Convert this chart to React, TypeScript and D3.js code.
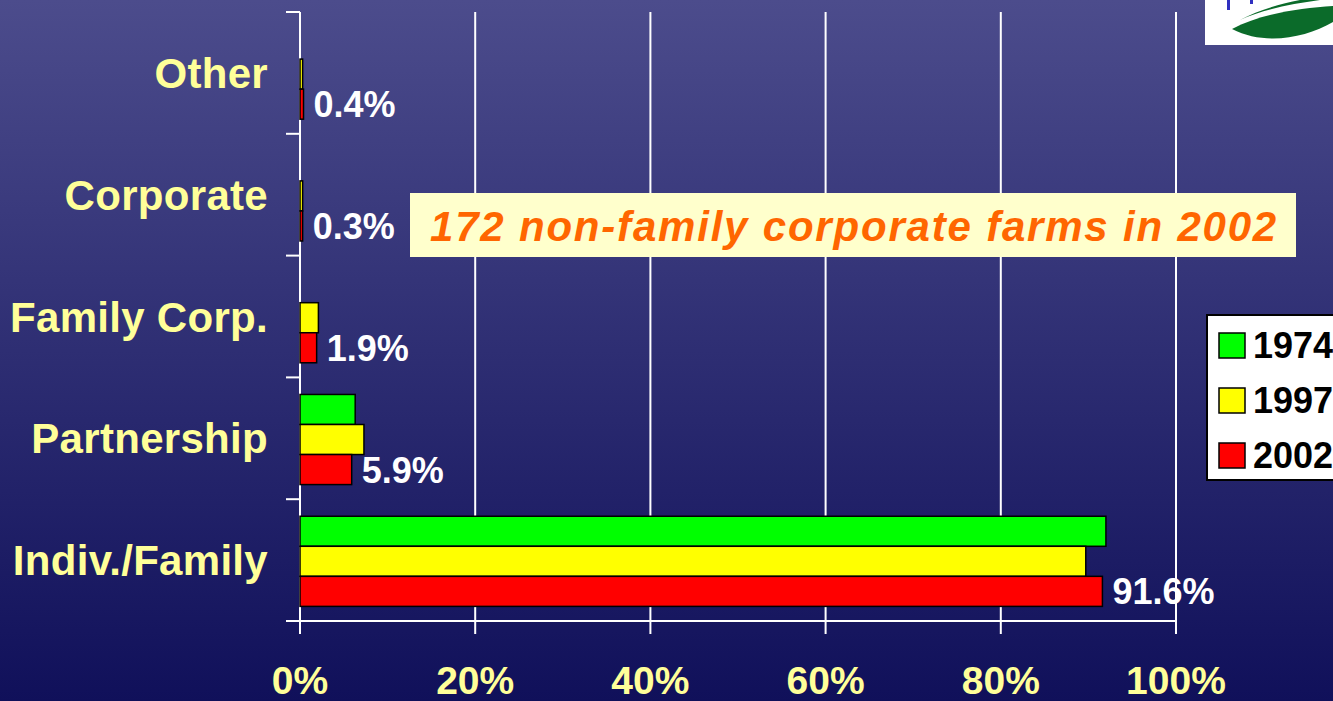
import React from 'react';
import * as d3 from 'd3';

const categories = ['Other', 'Corporate', 'Family Corp.', 'Partnership', 'Indiv./Family'];
const years = ['1974', '1997', '2002'];
const values1974 = [0, 0, 0, 6.3, 92.0];
const values1997 = [0.3, 0.3, 2.1, 7.3, 89.7];
const values2002 = [0.4, 0.3, 1.9, 5.9, 91.6];
const labels2002 = ['0.4%', '0.3%', '1.9%', '5.9%', '91.6%'];
const xTicks = [0, 20, 40, 60, 80, 100];
const colors = ['#00ff00', '#ffff00', '#ff0000'];
const note = '172 non-family corporate farms in 2002';

const W = 1333, H = 701;
const left = 300, right = 1176, top = 12, bottom = 621;

export default function App() {
  const x = d3.scaleLinear().domain([0, 100]).range([left, right]);
  const y = d3.scaleBand().domain(categories).range([top, bottom]).padding(0);
  const bw = y.bandwidth();
  const inner = d3.scaleBand().domain(years).range([bw * 0.14, bw * 0.88]).padding(0);
  const series = [values1974, values1997, values2002];
  const font = 'Arial, "Liberation Sans", Helvetica, sans-serif';

  return (
    <div style={{ position: 'absolute', left: 0, top: 0 }}>
      <svg width={W} height={H} style={{ display: 'block' }} fontFamily={font}>
        <defs>
          <linearGradient id="bg" x1="0" y1="0" x2="0" y2="1">
            <stop offset="0%" stopColor="#4c4c8c" />
            <stop offset="100%" stopColor="#10105a" />
          </linearGradient>
        </defs>
        <rect width={W} height={H} fill="url(#bg)" />

        {/* logo corner */}
        <rect x={1205} y={-2} width={140} height={47} fill="#ffffff" />
        <path d="M1232,29 C1260,14 1300,8 1333,6 L1333,22 C1305,38 1265,46 1232,29 Z" fill="#0b6b2a" />
        <path d="M1240,20 C1262,10 1290,4 1320,0 L1300,0 C1280,4 1258,10 1240,20 Z" fill="#0b6b2a" />
        <rect x={1227} y={0} width={3} height={10} fill="#3030c0" />
        <rect x={1250} y={0} width={3} height={4} fill="#3030c0" />

        {/* grid */}
        {xTicks.map(t => (
          <line key={'g' + t} x1={x(t)} x2={x(t)} y1={top} y2={bottom + 13} stroke="#ffffff" strokeWidth={2} />
        ))}
        <line x1={left - 14} x2={right} y1={bottom} y2={bottom} stroke="#ffffff" strokeWidth={2} />
        {categories.map(c => (
          <line key={'t' + c} x1={left - 14} x2={left} y1={(y(c) as number)} y2={(y(c) as number)} stroke="#ffffff" strokeWidth={2} />
        ))}

        {/* bars */}
        {categories.map((c, i) => (
          <g key={c} transform={`translate(0,${y(c)})`}>
            {series.map((s, j) => s[i] > 0 ? (
              <rect key={j} x={x(0)} y={inner(years[j])} width={x(s[i]) - x(0)} height={inner.bandwidth()}
                fill={colors[j]} stroke="#000" strokeWidth={1.5} />
            ) : null)}
            <text x={x(values2002[i]) + 10} y={(inner(years[2]) as number) + inner.bandwidth() / 2}
              dy="0.36em" fill="#ffffff" fontSize={36} fontWeight="bold">{labels2002[i]}</text>
          </g>
        ))}

        {/* category labels */}
        {categories.map(c => (
          <text key={'l' + c} x={268} y={(y(c) as number) + bw / 2} dy="0.36em" textAnchor="end"
            fill="#ffff99" fontSize={42} fontWeight="bold" letterSpacing={0.3}>{c}</text>
        ))}

        {/* x tick labels */}
        {xTicks.map(t => (
          <text key={'x' + t} x={x(t)} y={694} textAnchor="middle" fill="#ffff99" fontSize={39} fontWeight="bold">{t}%</text>
        ))}

        {/* annotation */}
        <rect x={410} y={193} width={886} height={64} fill="#ffffcc" />
        <text x={430} y={241} fill="#ff6600" fontSize={42} fontWeight="bold" fontStyle="italic" letterSpacing={1.8}>{note}</text>

        {/* legend */}
        <rect x={1207} y={315} width={140} height={165} fill="#ffffff" stroke="#000" strokeWidth={2} />
        {years.map((yr, j) => (
          <g key={yr} transform={`translate(1219,${333 + j * 55})`}>
            <rect width={26} height={25} fill={colors[j]} stroke="#000" strokeWidth={1.5} />
            <text x={34} y={12.5} dy="0.36em" fill="#000" fontSize={36} fontWeight="bold">{yr}</text>
          </g>
        ))}
      </svg>
    </div>
  );
}
